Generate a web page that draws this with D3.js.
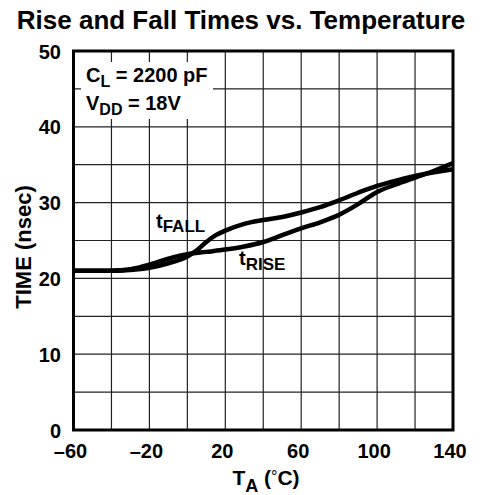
<!DOCTYPE html>
<html>
<head>
<meta charset="utf-8">
<script src="https://cdn.jsdelivr.net/npm/d3@7.9.0/dist/d3.min.js"></script>
<style>
  body { margin: 0; background: #fff; }
  svg { font-family: "Liberation Sans", Arial, sans-serif; font-weight: bold; }
</style>
</head>
<body>
<svg width="482" height="495"></svg>
<script>
// data
const xTicks = [-60, -20, 20, 60, 100, 140];
const yTicks = [0, 10, 20, 30, 40, 50];

const fallTemps = [-60, -40, -30, -20, -10, 0, 5, 10, 15, 20, 30, 40, 50, 60, 70, 80, 90, 100, 110, 120, 130, 140];
const fallTime  = [21.0, 21.0, 21.1, 21.4, 22.0, 22.9, 23.7, 24.8, 25.7, 26.3, 27.2, 27.7, 28.1, 28.7, 29.4, 30.3, 31.3, 32.2, 32.9, 33.5, 34.0, 34.4];

const riseTemps = [-60, -40, -30, -20, -10, 0, 10, 20, 30, 40, 50, 60, 70, 80, 90, 100, 110, 120, 130, 140];
const riseTime  = [21.0, 21.0, 21.2, 21.8, 22.6, 23.2, 23.5, 23.8, 24.2, 24.8, 25.7, 26.6, 27.4, 28.4, 29.8, 31.4, 32.4, 33.3, 34.2, 35.2];

const svg = d3.select('svg');
const plotL = 73.5, plotR = 453, plotT = 51, plotB = 430;

const x = d3.scaleLinear().domain([-60, 140]).range([plotL, plotR]);
const y = d3.scaleLinear().domain([0, 50]).range([plotB, plotT]);

// title
svg.append('text')
    .attr('x', 241).attr('y', 29)
    .attr('text-anchor', 'middle')
    .attr('font-size', 26)
    .text('Rise and Fall Times vs. Temperature');

// grid
const grid = svg.append('g');
grid.selectAll('.vx')
    .data(d3.range(-40, 140, 20))
    .join('line')
    .attr('x1', d => x(d)).attr('x2', d => x(d))
    .attr('y1', plotT).attr('y2', plotB)
    .attr('stroke', '#222').attr('stroke-width', 1.2);
grid.selectAll('.hy')
    .data(d3.range(5, 50, 5))
    .join('line')
    .attr('y1', d => y(d)).attr('y2', d => y(d))
    .attr('x1', plotL).attr('x2', plotR)
    .attr('stroke', '#222').attr('stroke-width', 1.2);

// tick labels
svg.append('g').selectAll('text')
    .data(xTicks)
    .join('text')
    .attr('x', d => x(d) - 3)
    .attr('y', plotB + 28)
    .attr('text-anchor', 'middle')
    .attr('font-size', 20)
    .text(d => d < 0 ? '\u2013' + Math.abs(d) : d);

svg.append('g').selectAll('text')
    .data(yTicks)
    .join('text')
    .attr('x', 61)
    .attr('y', d => y(d) + 7.5)
    .attr('text-anchor', 'end')
    .attr('font-size', 20)
    .text(d => d);

// axis titles
const xt = svg.append('text')
    .attr('x', 266).attr('y', 485)
    .attr('text-anchor', 'middle')
    .attr('font-size', 21);
xt.append('tspan').text('T');
xt.append('tspan').attr('font-size', 18).attr('dy', 7).text('A');
xt.append('tspan').attr('dy', -7).text(' (');
xt.append('tspan').attr('font-weight', 'normal').attr('font-size', 16).attr('dy', -3).text('\u00B0');
xt.append('tspan').attr('dy', 3).text('C)');

svg.append('text')
    .attr('transform', 'translate(31,247) rotate(-90)')
    .attr('text-anchor', 'middle')
    .attr('font-size', 22)
    .text('TIME (nsec)');

// curves
const line = d3.line()
    .x(d => x(d[0]))
    .y(d => y(d[1]))
    .curve(d3.curveMonotoneX);

svg.append('path')
    .attr('d', line(d3.zip(riseTemps, riseTime)))
    .attr('fill', 'none').attr('stroke', '#000').attr('stroke-width', 4.5);
svg.append('path')
    .attr('d', line(d3.zip(fallTemps, fallTime)))
    .attr('fill', 'none').attr('stroke', '#000').attr('stroke-width', 4.5);

// frame
svg.append('rect')
    .attr('x', plotL).attr('y', plotT)
    .attr('width', plotR - plotL).attr('height', plotB - plotT)
    .attr('fill', 'none').attr('stroke', '#000').attr('stroke-width', 3);

// conditions box
svg.append('rect')
    .attr('x', 81).attr('y', 62)
    .attr('width', 132).attr('height', 57)
    .attr('fill', '#fff');

const c1 = svg.append('text').attr('x', 86).attr('y', 82).attr('font-size', 20);
c1.append('tspan').text('C');
c1.append('tspan').attr('font-size', 16).attr('dy', 5).text('L');
c1.append('tspan').attr('dy', -5).text(' = 2200 pF');

const c2 = svg.append('text').attr('x', 86).attr('y', 110).attr('font-size', 20);
c2.append('tspan').text('V');
c2.append('tspan').attr('font-size', 16).attr('dy', 5).text('DD');
c2.append('tspan').attr('dy', -5).text(' = 18V');

// curve labels
const lf = svg.append('text').attr('x', 156).attr('y', 228).attr('font-size', 20);
lf.append('tspan').text('t');
lf.append('tspan').attr('font-size', 17).attr('dy', 4).text('FALL');

const lr = svg.append('text').attr('x', 239).attr('y', 265).attr('font-size', 20);
lr.append('tspan').text('t');
lr.append('tspan').attr('font-size', 17).attr('dy', 5).text('RISE');
</script>
</body>
</html>
